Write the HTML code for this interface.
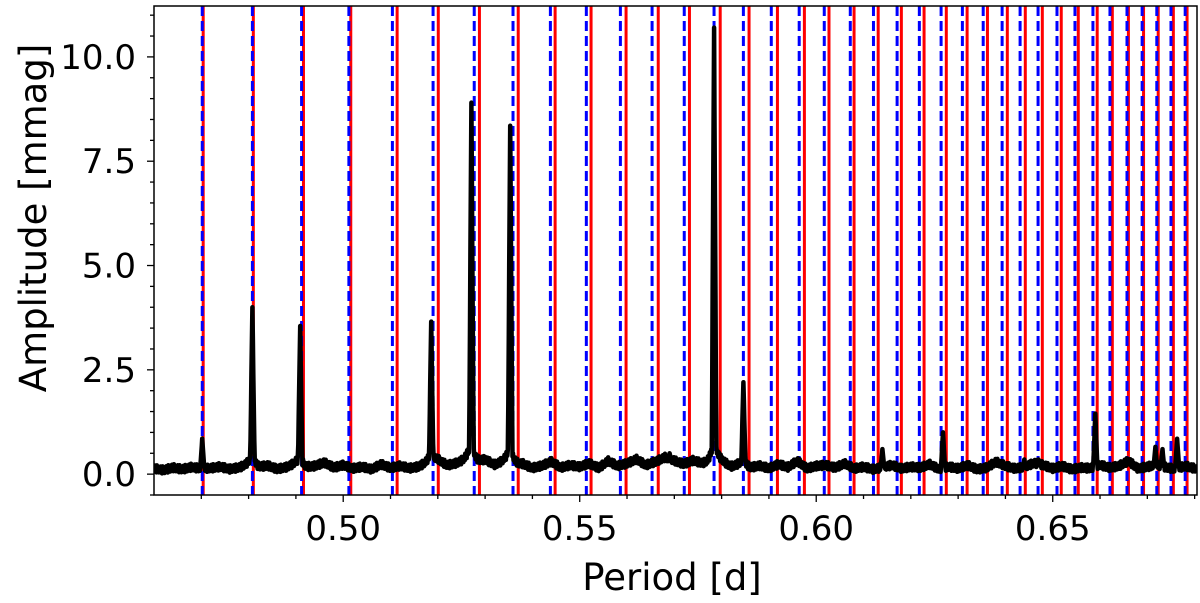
<!DOCTYPE html>
<html><head><meta charset="utf-8"><style>
html,body{margin:0;padding:0;background:#fff;}
svg{display:block;font-family:"DejaVu Sans","Liberation Sans",sans-serif;}
</style></head><body>
<svg id="chart" width="1200" height="603" viewBox="0 0 1200 603">
<defs><clipPath id="clip"><rect x="154" y="6" width="1043" height="489"/></clipPath></defs>
<g id="plot" clip-path="url(#clip)"></g>
<rect x="154" y="6" width="1043" height="489" fill="none" stroke="#000" stroke-width="1.5"/>
<g id="axes"></g>
<text x="672" y="590" text-anchor="middle" font-size="37">Period [d]</text>
<text transform="translate(46,218) rotate(-90)" text-anchor="middle" font-size="37">Amplitude [mmag]</text>
</svg>
<script>
const xTicks = [0.50, 0.55, 0.60, 0.65];
const xTickLabels = ["0.50", "0.55", "0.60", "0.65"];
const yTicks = [0, 2.5, 5, 7.5, 10];
const yTickLabels = ["0.0", "2.5", "5.0", "7.5", "10.0"];
const bluePeriods = [0.4702,0.4808,0.4912,0.5012,0.5104,0.5190,0.5277,0.5359,0.5438,0.5514,0.5586,0.5653,0.5721,0.5784,0.5846,0.5905,0.5964,0.6017,0.6072,0.6121,0.6171,0.6218,0.6264,0.6309,0.6353,0.6393,0.6431,0.6469,0.6509,0.6547,0.6585,0.6621,0.6657,0.6689,0.6720,0.6750,0.6780];
const redPeriods = [0.4704,0.4810,0.4916,0.5016,0.5114,0.5201,0.5288,0.5370,0.5448,0.5524,0.5598,0.5666,0.5732,0.5797,0.5858,0.5918,0.5975,0.6027,0.6080,0.6131,0.6180,0.6228,0.6275,0.6319,0.6362,0.6404,0.6442,0.6478,0.6518,0.6554,0.6594,0.6626,0.6660,0.6692,0.6723,0.6755,0.6784];
const peakPeriods = [0.4702,0.4808,0.4909,0.5186,0.5271,0.5353,0.5784,0.5846,0.6140,0.6268,0.6590,0.6717,0.6732,0.6763,0.5690,0.6440,0.6470];
const peakAmps = [0.85,4.0,3.55,3.65,8.9,8.35,10.7,2.2,0.6,1.0,1.45,0.65,0.6,0.85,0.5,0.35,0.35];
const baseStart = 0.46, baseStep = 0.002;
const baseAmps = [0.12,0.08,0.14,0.1,0.15,0.09,0.12,0.16,0.1,0.13,0.2,0.12,0.18,0.1,0.14,0.22,0.12,0.17,0.26,0.14,0.2,0.12,0.16,0.1,0.22,0.13,0.18,0.12,0.15,0.25,0.3,0.18,0.22,0.28,0.2,0.3,0.18,0.24,0.15,0.2,0.12,0.18,0.28,0.14,0.2,0.16,0.24,0.13,0.3,0.18,0.24,0.34,0.2,0.28,0.38,0.3,0.22,0.3,0.2,0.18,0.24,0.14,0.2,0.12,0.18,0.12,0.22,0.15,0.3,0.12,0.18,0.2,0.14,0.24,0.12,0.16,0.1,0.14,0.2,0.12,0.16,0.14,0.22,0.1,0.16,0.12,0.2,0.1,0.14,0.28,0.18,0.12,0.15,0.25,0.2,0.12,0.18,0.1,0.14,0.12,0.2,0.14,0.18,0.3,0.12,0.16,0.2,0.14,0.1,0.18,0.12,0.15];
const jitter = [0.06,-0.05,0.09,-0.02,0.03,-0.07,0.1,0.0,-0.04,0.07,-0.06,0.02];
const xMin=0.46, xMax=0.6805, yMin=-0.5, yMax=11.22;
const L=154, R=1197, T=6, B=495;
function xs(p){return L+(p-xMin)/(xMax-xMin)*(R-L);}
function ys(a){return B-(a-yMin)/(yMax-yMin)*(B-T);}
const NS="http://www.w3.org/2000/svg";
const plot=document.getElementById('plot'), axes=document.getElementById('axes');
function mk(tag,attrs,parent){const e=document.createElementNS(NS,tag);for(const k in attrs)e.setAttribute(k,attrs[k]);parent.appendChild(e);return e;}
function ampAt(p,n){
  const i=(p-baseStart)/baseStep, i0=Math.floor(i), f=i-i0;
  const b0=baseAmps[Math.min(i0,baseAmps.length-1)], b1=baseAmps[Math.min(i0+1,baseAmps.length-1)];
  let a=b0+(b1-b0)*f + jitter[n%jitter.length];
  for(let j=0;j<peakPeriods.length;j++){
    const d=Math.abs(p-peakPeriods[j]);
    const core=Math.max(0,1-d/0.0005);
    const skirt=0.05/(1+Math.pow(d/0.0008,2));
    a=Math.max(a,peakAmps[j]*core, a+peakAmps[j]*skirt*(j<8?1:0.3));
  }
  return a;
}
let samples=[];
for(let n=0;;n++){const p=xMin+n*0.0001;if(p>xMax)break;samples.push(p);}
peakPeriods.forEach(p=>samples.push(p));
samples.sort((a,b)=>a-b);
let pts=samples.map((p,n)=>xs(p).toFixed(1)+','+ys(ampAt(p,n)).toFixed(1));
for(const p of redPeriods){
  const ln=mk('line',{x1:xs(p),x2:xs(p),y1:T,y2:B,stroke:'#ff0000','stroke-width':3},plot);
  
  
}
for(const p of bluePeriods){
  const ln=mk('line',{x1:xs(p),x2:xs(p),y1:T,y2:B,stroke:'#0000ff','stroke-width':3,'stroke-dasharray':'10 5'},plot);
  
  
}
const spec=mk('polyline',{points:pts.join(' '),fill:'none',stroke:'#000','stroke-width':4.5,'stroke-linejoin':'round'},plot);


for(let m=47;m<=68;m++){
  const p=m/100, x=xs(p), major=(m%5===0);
  const t=mk('line',{x1:x,x2:x,y1:B,y2:B+(major?7:4),stroke:'#000','stroke-width':1.3},axes);
  
  
}
xTicks.forEach((p,i)=>{
  const t=mk('text',{x:xs(p),y:540,'text-anchor':'middle','font-size':34},axes);
  t.textContent=xTickLabels[i];
  
  
});
for(let v=-0.5;v<=11.01;v+=0.5){
  const y=ys(v), major=Math.abs(v/2.5-Math.round(v/2.5))<1e-6;
  const t=mk('line',{x1:L-(major?7:4),x2:L,y1:y,y2:y,stroke:'#000','stroke-width':1.3},axes);
  
  
}
yTicks.forEach((v,i)=>{
  const t=mk('text',{x:136,y:ys(v)+12,'text-anchor':'end','font-size':34},axes);
  t.textContent=yTickLabels[i];
  
  
});
</script>
</body></html>
